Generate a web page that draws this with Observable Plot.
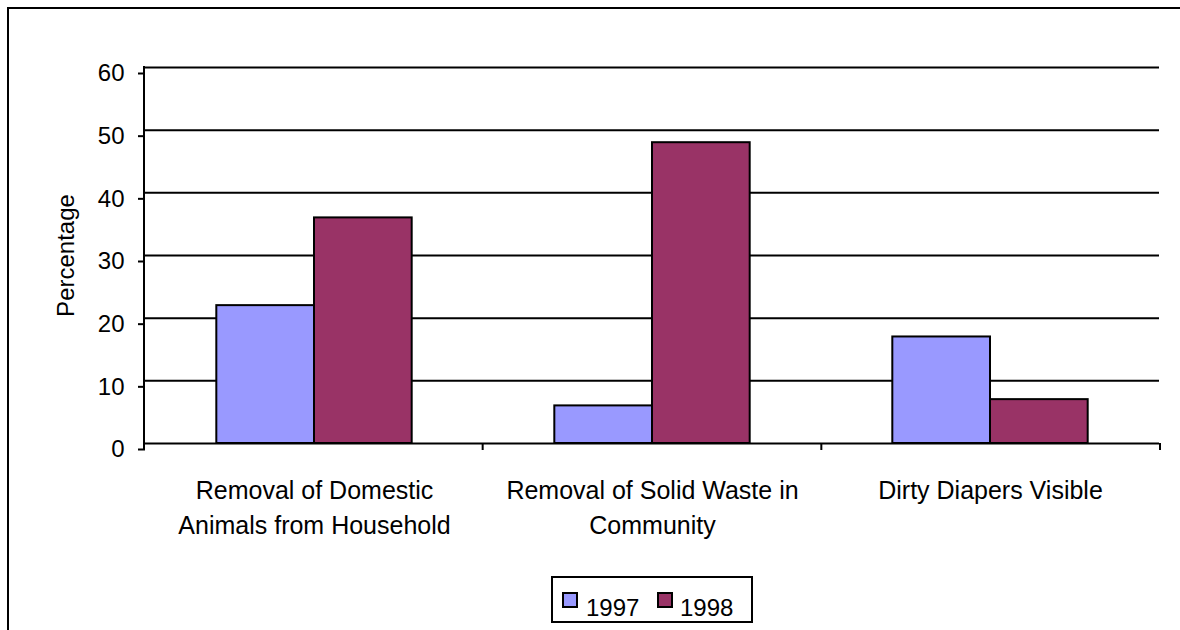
<!DOCTYPE html>
<html><head><meta charset="utf-8">
<script src="https://cdn.jsdelivr.net/npm/d3@7"></script>
<script src="https://cdn.jsdelivr.net/npm/@observablehq/plot@0.6"></script>
<style>
html,body{margin:0;padding:0;background:#fff;overflow:hidden;width:1180px;height:630px}
#frame{position:absolute;left:7px;top:7px;width:1400px;height:800px;border-top:2px solid #000;border-left:2px solid #000;box-sizing:border-box}
#chart{position:absolute;left:0;top:0}
#legend{position:absolute;left:551px;top:576px;width:202px;height:47px;border:2px solid #000;box-sizing:border-box;background:#fff;font-family:"Liberation Sans",Arial,sans-serif;color:#000}
.sw{position:absolute;width:16px;height:16px;border:2px solid #000;box-sizing:border-box}
.lt{position:absolute;font-size:24px;line-height:24px;white-space:nowrap}
</style></head><body>
<div id="frame"></div>
<div id="chart"></div>
<div id="legend"></div>
<script>
const categories = ["Removal of Domestic Animals from Household", "Removal of Solid Waste in Community", "Dirty Diapers Visible"];
const categoryLines = [["Removal of Domestic", "Animals from Household"], ["Removal of Solid Waste in", "Community"], ["Dirty Diapers Visible"]];
const years = ["1997", "1998"];
const values1997 = [22, 6, 17];
const values1998 = [36, 48, 7];
const yTicks = [0, 10, 20, 30, 40, 50, 60];
const colors = ["#9999FF", "#993366"];
const yLabel = "Percentage";

const rows = categories.flatMap((c, i) => [
  {category: c, year: years[0], value: values1997[i]},
  {category: c, year: years[1], value: values1998[i]}
]);

const font = '"Liberation Sans", Arial, sans-serif';

const plot = Plot.plot({
  width: 1180, height: 560,
  marginLeft: 144, marginRight: 20, marginTop: 67, marginBottom: 117,
  style: {background: "transparent", fontFamily: font, color: "#000"},
  fx: {domain: categories, padding: 0, label: null},
  x: {domain: years, paddingInner: 0, paddingOuter: 0.73, axis: null, round: false},
  y: {domain: [0, 60], label: null},
  color: {domain: years, range: colors},
  marks: [
    Plot.ruleY(yTicks.filter(d => d > 0), {stroke: "#000", strokeWidth: 2}),
    Plot.barY(rows, {fx: "category", x: "year", y: "value", fill: "year", stroke: "#000", strokeWidth: 2}),
    Plot.ruleY([0], {stroke: "#000", strokeWidth: 2}),
    Plot.axisY({ticks: yTicks, tickSize: 7, tickPadding: 14, strokeWidth: 2, fontSize: 24, dy: 6,
      tickFormat: d => String(d), label: yLabel, labelAnchor: "center", labelArrow: "none", labelOffset: 89}),
    Plot.axisFx({anchor: "bottom", tickSize: 0, tickPadding: 30, fontSize: 25, lineHeight: 1.42,
      tickFormat: c => categoryLines[categories.indexOf(c)].join("\n"), label: null})
  ]
});

// axis line and category boundary ticks, from the plot's own scales
const fxs = plot.scale("fx"), ys = plot.scale("y");
const band = d3.scaleBand(fxs.domain, fxs.range);
const svg = d3.select(plot);
const g = svg.append("g").attr("stroke", "#000").attr("stroke-width", 2);
const x0 = band(categories[0]);
g.append("line").attr("x1", x0).attr("x2", x0).attr("y1", ys.apply(60) - 1).attr("y2", ys.apply(0) + 7);
const bounds = [...categories.map(c => band(c)), band(categories[categories.length - 1]) + band.bandwidth()];
bounds.forEach(b => g.append("line").attr("x1", b).attr("x2", b).attr("y1", ys.apply(0)).attr("y2", ys.apply(0) + 7));

document.getElementById("chart").appendChild(plot);

// legend
const leg = document.getElementById("legend");
const legPos = [{sw: 9, tx: 33}, {sw: 104, tx: 127}];
years.forEach((yr, i) => {
  const s = document.createElement("div");
  s.className = "sw"; s.style.left = legPos[i].sw + "px"; s.style.top = "14px"; s.style.background = colors[i];
  leg.appendChild(s);
  const t = document.createElement("div");
  t.className = "lt"; t.style.left = legPos[i].tx + "px"; t.style.top = "18px"; t.textContent = yr;
  leg.appendChild(t);
});
</script>
</body></html>
